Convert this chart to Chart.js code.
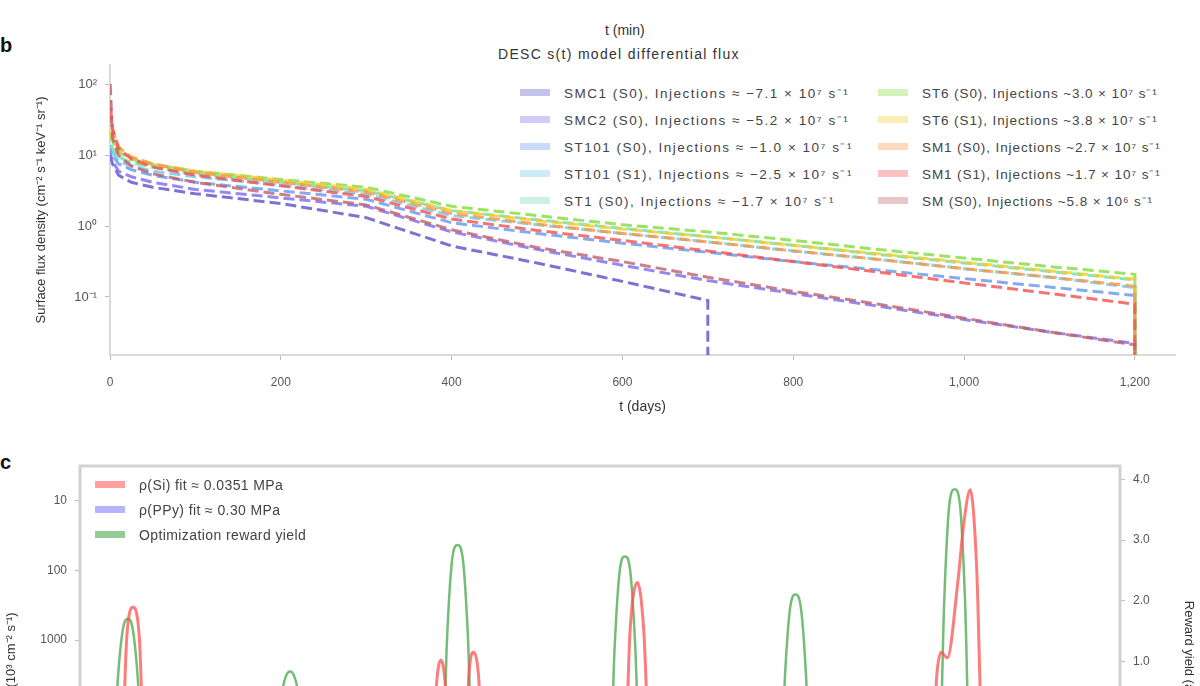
<!DOCTYPE html>
<html><head><meta charset="utf-8">
<script src="https://cdn.jsdelivr.net/npm/chart.js@4.4.1/dist/chart.umd.min.js"></script>
<style>
html,body{margin:0;padding:0;width:1200px;height:686px;overflow:hidden;background:#fff;font-family:"Liberation Sans",Arial,sans-serif;}
#cb{position:absolute;left:0;top:0;}
#cc{position:absolute;left:0;top:440px;}
.txt{position:absolute;white-space:nowrap;color:#333;}
.lab{position:absolute;font-weight:bold;font-size:20px;color:#111;}
.leg{position:absolute;font-size:13.5px;color:#444;white-space:nowrap;letter-spacing:0.9px;}
.leg .row{display:flex;align-items:center;height:27px;}
.sw{display:inline-block;width:30px;height:7px;margin-right:14px;}
</style></head>
<body>
<div class="txt" style="left:605px;top:22px;font-size:14px;">t (min)</div>
<div class="lab" style="left:0px;top:34px;">b</div>
<div class="txt" style="left:498px;top:46px;font-size:14px;letter-spacing:1.3px;">DESC s(t) model differential flux</div>
<div class="leg" id="legB1" style="left:520px;top:79px;letter-spacing:1.5px;"></div>
<div class="leg" id="legB2" style="left:878px;top:79px;"></div>
<canvas id="cb" width="1200" height="420"></canvas>
<div class="lab" style="left:0px;top:451px;">c</div>
<canvas id="cc" width="1200" height="420"></canvas>
<div class="leg" id="legC" style="left:95px;top:472px;font-size:14px;letter-spacing:0.4px;"></div>
<script>
// ---------- Panel b data ----------
const T_DAYS = [0, 3, 10, 25, 50, 100, 200, 300, 400, 500, 600, 700, 800, 900, 1000, 1100, 1200];
const SERIES_NAMES = [
  "SMC1 (S0), Injections ≈ −7.1 × 10⁷ s⁻¹",
  "SMC2 (S0), Injections ≈ −5.2 × 10⁷ s⁻¹",
  "ST101 (S0), Injections ≈ −1.0 × 10⁷ s⁻¹",
  "ST101 (S1), Injections ≈ −2.5 × 10⁷ s⁻¹",
  "ST1 (S0), Injections ≈ −1.7 × 10⁷ s⁻¹",
  "ST6 (S0), Injections ~3.0 × 10⁷ s⁻¹",
  "ST6 (S1), Injections ~3.8 × 10⁷ s⁻¹",
  "SM1 (S0), Injections ~2.7 × 10⁷ s⁻¹",
  "SM1 (S1), Injections ~1.7 × 10⁷ s⁻¹",
  "SM (S0), Injections ~5.8 × 10⁶ s⁻¹"
];
const SERIES_END_T = [700, 1200, 1200, 1200, 1200, 1200, 1200, 1200, 1200, 1200];
const FLUX_S1  = [10.0, 7.6, 5.25, 4.17, 3.55, 2.88, 2.09, 1.32, 0.525, 0.302, 0.166, 0.089, null, null, null, null, null];
const FLUX_S2  = [11.2, 8.3, 6.0, 5.0, 4.17, 3.31, 2.51, 1.91, 0.83, 0.47, 0.28, 0.17, 0.112, 0.074, 0.048, 0.032, 0.022];
const FLUX_S3  = [12.6, 10.0, 7.6, 6.3, 5.25, 4.17, 3.16, 2.4, 1.12, 0.79, 0.575, 0.427, 0.316, 0.24, 0.182, 0.138, 0.105];
const FLUX_S4  = [14.1, 11.2, 8.3, 7.1, 6.0, 5.0, 3.8, 2.82, 1.41, 1.05, 0.79, 0.60, 0.447, 0.339, 0.251, 0.19, 0.135];
const FLUX_S5  = [15.8, 12.6, 9.5, 7.9, 6.8, 5.5, 4.17, 3.16, 1.66, 1.23, 0.93, 0.71, 0.537, 0.398, 0.302, 0.229, 0.174];
const FLUX_S6  = [20.0, 15.8, 11.2, 8.9, 7.4, 6.0, 4.57, 3.55, 1.91, 1.41, 1.05, 0.83, 0.63, 0.468, 0.355, 0.269, 0.209];
const FLUX_S7  = [22.4, 17.8, 12.0, 9.3, 7.6, 6.0, 4.47, 3.31, 1.66, 1.2, 0.91, 0.71, 0.537, 0.407, 0.309, 0.234, 0.178];
const FLUX_S8  = [35.0, 22.4, 13.2, 9.5, 7.6, 5.75, 4.17, 3.02, 1.51, 1.07, 0.79, 0.60, 0.447, 0.339, 0.251, 0.191, 0.141];
const FLUX_S9  = [60.0, 24.0, 12.6, 8.9, 6.9, 5.25, 3.72, 2.63, 1.26, 0.87, 0.63, 0.447, 0.316, 0.224, 0.158, 0.112, 0.079];
const FLUX_S10 = [120.0, 17.8, 10.0, 7.1, 5.5, 4.17, 2.82, 2.0, 0.89, 0.5, 0.316, 0.19, 0.12, 0.079, 0.05, 0.032, 0.021];
const FLUX_FLOOR = 0.005;
const B_Y_TICKS = [0.1, 1, 10, 100];
const B_Y_LABELS = ["10⁻¹", "10⁰", "10¹", "10²"];
const B_X_TICKS = [0, 200, 400, 600, 800, 1000, 1200];
const B_X_LABELS = ["0", "200", "400", "600", "800", "1,000", "1,200"];

// ---------- Panel c data ----------
const C_X_GREEN = [0,
  3.0, 3.6, 4.1, 4.6, 5.1, 5.6, 6.2,
  18.8, 19.4, 19.8, 20.2, 20.6, 21.0, 21.6,
  34.7, 35.3, 35.8, 36.3, 36.8, 37.3, 37.9,
  50.8, 51.4, 51.9, 52.4, 52.9, 53.4, 54.0,
  67.2, 67.8, 68.3, 68.8, 69.3, 69.8, 70.4,
  82.5, 83.1, 83.6, 84.1, 84.6, 85.1, 85.7,
  100];
const C_V_GREEN = [-1.5,
  -1.5, 0.6, 1.5, 1.7, 1.5, 0.6, -1.5,
  -1.5, 0.4, 0.75, 0.83, 0.75, 0.4, -1.5,
  -1.5, 1.4, 2.7, 2.92, 2.7, 1.4, -1.5,
  -1.5, 1.2, 2.5, 2.73, 2.5, 1.2, -1.5,
  -1.5, 0.8, 1.9, 2.1, 1.9, 0.8, -1.5,
  -1.5, 2.0, 3.6, 3.84, 3.6, 2.0, -1.5,
  -1.5];
const C_X_RED = [0,
  3.9, 4.5, 5.1, 5.7, 6.3,
  33.8, 34.3, 34.7, 35.1, 35.6,
  36.9, 37.4, 37.8, 38.3, 38.9,
  52.3, 52.9, 53.6, 54.2, 54.9,
  81.8, 82.4, 82.8, 83.4, 84.4, 85.0, 85.6, 86.2, 86.9,
  100];
const C_V_RED = [1e5,
  1e5, 900, 340, 900, 1e5,
  1e5, 4000, 1950, 4000, 1e5,
  1e5, 3000, 1500, 3000, 1e5,
  1e5, 700, 150, 700, 1e5,
  1e5, 3000, 1500, 1800, 150, 20, 7, 80, 1e5,
  1e5];
const C_X_BLUE = [0, 20, 40, 60, 80, 100];
const C_V_BLUE = [4e4, 5e4, 3.5e4, 4.5e4, 3e4, 5e4];
const C_LEFT_TICKS = [10, 100, 1000];
const C_RIGHT_TICKS = [1, 2, 3, 4];
const C_NAMES = ["ρ(Si) fit ≈ 0.0351 MPa", "ρ(PPy) fit ≈ 0.30 MPa", "Optimization reward yield"];

// ---------- styles ----------
const LINE_RGB = ["90,80,200","125,105,240","100,150,240","110,200,235","110,220,170","130,220,60","240,205,40","250,150,70","245,80,80","190,95,105"];
const FONT = "'Liberation Sans', Arial, sans-serif";
Chart.defaults.font.family = FONT;
Chart.defaults.color = '#555';

const FLUX = [FLUX_S1, FLUX_S2, FLUX_S3, FLUX_S4, FLUX_S5, FLUX_S6, FLUX_S7, FLUX_S8, FLUX_S9, FLUX_S10];
const dsB = FLUX.map((vals, i) => {
  const pts = [];
  T_DAYS.forEach((t, j) => { if (t <= SERIES_END_T[i] && vals[j] !== null) pts.push({x: t, y: vals[j]}); });
  pts.push({x: SERIES_END_T[i], y: FLUX_FLOOR});
  return {
    label: SERIES_NAMES[i], data: pts, order: 10 - i,
    borderColor: 'rgba(' + LINE_RGB[i] + ',0.8)', borderWidth: 3,
    borderDash: [11, 5], borderDashOffset: i * 3,
    pointRadius: 0, tension: 0, fill: false
  };
});

// legend b (column-major, 2 columns of 5)
SERIES_NAMES.forEach((n, i) => {
  const row = document.createElement('div'); row.className = 'row';
  const sw = document.createElement('span'); sw.className = 'sw';
  sw.style.background = 'rgba(' + LINE_RGB[i] + ',0.35)';
  const tx = document.createElement('span'); tx.textContent = n;
  row.appendChild(sw); row.appendChild(tx);
  document.getElementById(i < 5 ? 'legB1' : 'legB2').appendChild(row);
});

new Chart(document.getElementById('cb'), {
  type: 'line',
  data: {datasets: dsB},
  options: {
    responsive: false, animation: false, devicePixelRatio: 1,
    layout: {padding: {left: 30, top: 65, right: 25, bottom: 0}},
    plugins: {legend: {display: false}, tooltip: {enabled: false}},
    scales: {
      x: {
        type: 'linear', min: 0, max: 1247,
        afterFit: s => { s.height = 65; },
        afterBuildTicks: s => { s.ticks = B_X_TICKS.map(v => ({value: v})); },
        ticks: {padding: 15, font: {size: 12}, color: '#555', maxRotation: 0,
          callback: v => B_X_LABELS[B_X_TICKS.indexOf(v)]},
        grid: {display: true, drawOnChartArea: false, tickLength: 5, color: '#bbb'},
        border: {display: true, color: '#dadada', width: 2},
        title: {display: true, text: 't (days)', font: {size: 14}, color: '#333'}
      },
      y: {
        type: 'logarithmic', min: 0.0151, max: 190,
        afterFit: s => { s.width = 80; },
        afterBuildTicks: s => { s.ticks = B_Y_TICKS.map(v => ({value: v})); },
        ticks: {padding: 8, font: {size: 13}, color: '#555',
          callback: v => B_Y_LABELS[B_Y_TICKS.indexOf(v)]},
        grid: {display: true, drawOnChartArea: false, tickLength: 5, color: '#bbb'},
        border: {display: true, color: '#dadada', width: 2},
        title: {display: true, text: 'Surface flux density (cm⁻² s⁻¹ keV⁻¹ sr⁻¹)', font: {size: 13}, color: '#333'}
      }
    }
  }
});

// ---------- panel c ----------
const C_RGB = ["255,80,80", "120,120,255", "60,160,60"];
C_NAMES.forEach((n, i) => {
  const row = document.createElement('div'); row.className = 'row'; row.style.height = '25px';
  const sw = document.createElement('span'); sw.className = 'sw';
  sw.style.background = 'rgba(' + C_RGB[i] + ',0.55)';
  const tx = document.createElement('span'); tx.textContent = n;
  row.appendChild(sw); row.appendChild(tx);
  document.getElementById('legC').appendChild(row);
});

const boxPlugin = {
  id: 'box',
  afterDraw(chart) {
    const a = chart.chartArea, c = chart.ctx;
    c.save(); c.strokeStyle = '#d2d2d2'; c.lineWidth = 3;
    c.strokeRect(a.left, a.top, a.right - a.left, a.bottom - a.top);
    c.restore();
  }
};

new Chart(document.getElementById('cc'), {
  type: 'line',
  data: {datasets: [
    {label: C_NAMES[0], yAxisID: 'yL', data: C_X_RED.map((x, i) => ({x: x, y: C_V_RED[i]})),
     borderColor: 'rgba(' + C_RGB[0] + ',0.75)', borderWidth: 3, pointRadius: 0, cubicInterpolationMode: 'monotone'},
    {label: C_NAMES[1], yAxisID: 'yL', data: C_X_BLUE.map((x, i) => ({x: x, y: C_V_BLUE[i]})),
     borderColor: 'rgba(' + C_RGB[1] + ',0.75)', borderWidth: 3, pointRadius: 0, cubicInterpolationMode: 'monotone'},
    {label: C_NAMES[2], yAxisID: 'yR', data: C_X_GREEN.map((x, i) => ({x: x, y: C_V_GREEN[i]})),
     borderColor: 'rgba(' + C_RGB[2] + ',0.7)', borderWidth: 2.5, pointRadius: 0, cubicInterpolationMode: 'monotone'}
  ]},
  options: {
    responsive: false, animation: false, devicePixelRatio: 1,
    layout: {padding: {left: 0, top: 26, right: 0, bottom: 0}},
    plugins: {legend: {display: false}, tooltip: {enabled: false}},
    scales: {
      x: {type: 'linear', min: 0, max: 100, display: false},
      yL: {
        type: 'logarithmic', position: 'left', reverse: true, min: 3.19, max: 8.67e5,
        afterFit: s => { s.width = 80; },
        afterBuildTicks: s => { s.ticks = C_LEFT_TICKS.map(v => ({value: v})); },
        ticks: {padding: 8, font: {size: 12}, color: '#555', callback: v => String(v)},
        grid: {display: true, drawOnChartArea: false, tickLength: 5, color: '#bbb'},
        border: {display: false},
        title: {display: true, text: 'ρ (10³ cm⁻² s⁻¹)', font: {size: 13}, color: '#333'}
      },
      yR: {
        type: 'linear', position: 'right', min: -2.03, max: 4.222,
        afterFit: s => { s.width = 80; },
        afterBuildTicks: s => { s.ticks = C_RIGHT_TICKS.map(v => ({value: v})); },
        ticks: {padding: 8, font: {size: 12}, color: '#555', callback: v => v.toFixed(1)},
        grid: {display: true, drawOnChartArea: false, tickLength: 5, color: '#bbb'},
        border: {display: false},
        title: {display: true, text: 'Reward yield (a.u.)', font: {size: 13}, color: '#333'}
      }
    }
  },
  plugins: [boxPlugin]
});
</script>
</body></html>
